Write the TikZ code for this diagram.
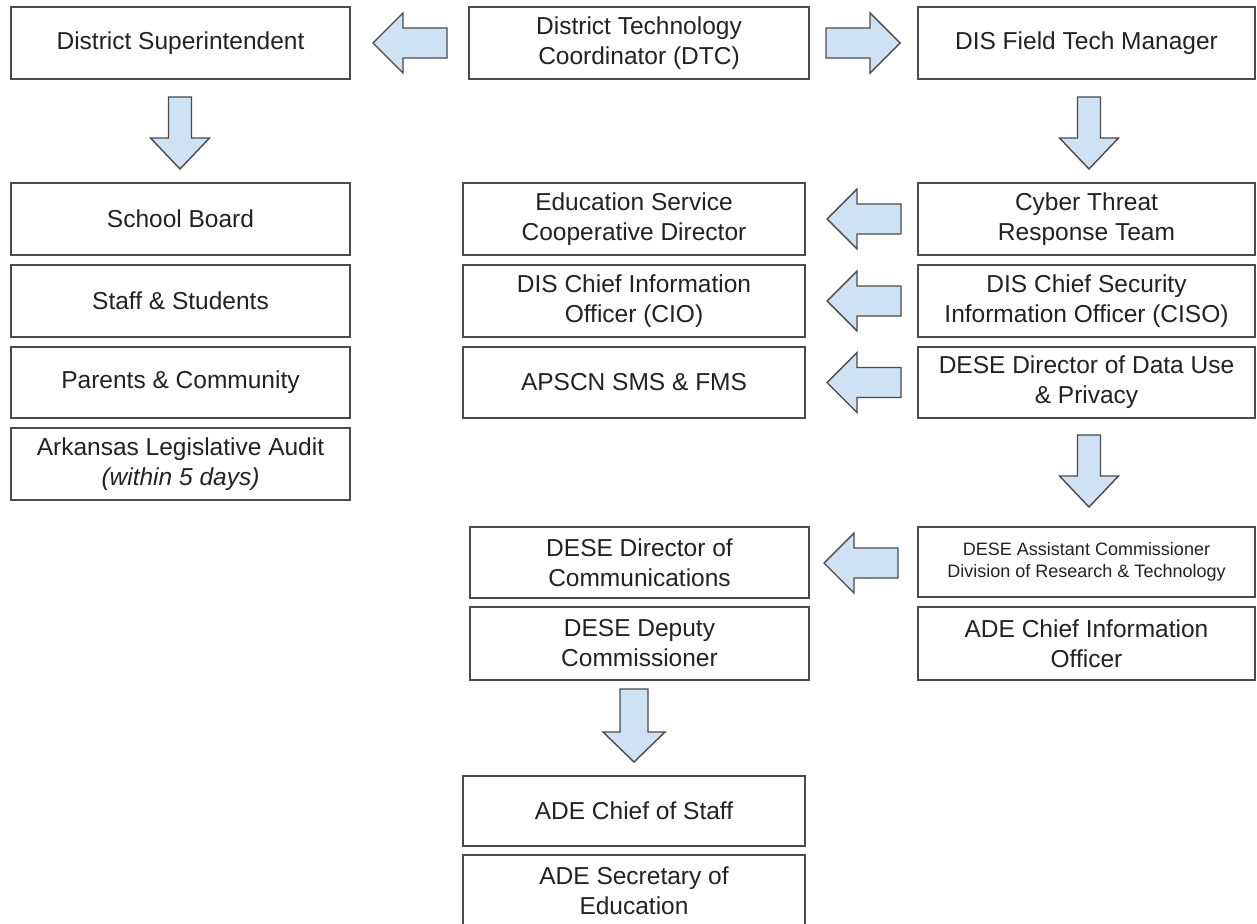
\documentclass[tikz,border=0pt]{standalone}
\usepackage{fontspec}
\setmainfont{Liberation Sans}
\definecolor{arrowfill}{HTML}{CFE2F3}
\definecolor{edge}{HTML}{4A4A4A}
\definecolor{txt}{HTML}{222222}
\tikzset{
  box/.style={draw=edge, line width=1.4pt, fill=white, text=txt, align=center,
    inner sep=0pt, font=\fontsize{24.5}{30}\selectfont},
  smalltext/.style={font=\fontsize{18}{21.5}\selectfont},
  arrowsty/.style={draw=edge, line width=1.4pt, fill=arrowfill, line join=miter},
  harr/.pic={\draw[arrowsty] (0,0) -- (-30,-30) -- (-30,-15) -- (-74,-15) -- (-74,15) -- (-30,15) -- (-30,30) -- cycle;},
  varr/.pic={\draw[arrowsty] (0,0) -- (-31,-29.5) -- (-31,-11.5) -- (-72,-11.5) -- (-72,11.5) -- (-31,11.5) -- (-31,29.5) -- cycle;},
  varrb/.pic={\draw[arrowsty] (0,0) -- (-30,-31) -- (-30,-14) -- (-73,-14) -- (-73,14) -- (-30,14) -- (-30,31) -- cycle;},
}
\begin{document}
\begin{tikzpicture}[x=1pt, y=-1pt]
\useasboundingbox (0,0) rectangle (1257,923);
\fill[white] (0,0) rectangle (1257,923);
\clip (0,0) rectangle (1257,923);

% left column
\node[box, minimum width=339pt, minimum height=72pt] (ds) at (180.5,43) {District Superintendent};
\node[box, minimum width=339pt, minimum height=72pt] (sb) at (180.5,219) {School Board};
\node[box, minimum width=339pt, minimum height=72pt] (ss) at (180.5,301) {Staff \& Students};
\node[box, minimum width=339pt, minimum height=71pt] (pc) at (180.5,382.5) {Parents \& Community};
\node[box, minimum width=339pt, minimum height=72pt] (ala) at (180.5,464) {Arkansas Legislative Audit\\\textit{(within 5 days)}};

% middle column
\node[box, minimum width=340pt, minimum height=72pt] (dtc) at (639,43) {District Technology\\Coordinator (DTC)};
\node[box, minimum width=342pt, minimum height=72pt] (edu) at (634,219) {Education Service\\Cooperative Director};
\node[box, minimum width=342pt, minimum height=72pt] (cio) at (634,301) {DIS Chief Information\\Officer (CIO)};
\node[box, minimum width=342pt, minimum height=71pt] (apscn) at (634,382.5) {APSCN SMS \& FMS};
\node[box, minimum width=339pt, minimum height=71pt] (comm) at (639.5,562.5) {DESE Director of\\Communications};
\node[box, minimum width=339pt, minimum height=73pt] (deputy) at (639.5,643.5) {DESE Deputy\\Commissioner};
\node[box, minimum width=342pt, minimum height=70pt] (cos) at (634,811) {ADE Chief of Staff};
\node[box, minimum width=342pt, minimum height=72pt] (sec) at (634,891) {ADE Secretary of\\Education};

% right column
\node[box, minimum width=337pt, minimum height=72pt] (ftm) at (1086.5,43) {DIS Field Tech Manager};
\node[box, minimum width=337pt, minimum height=72pt] (cyber) at (1086.5,219) {Cyber Threat\\Response Team};
\node[box, minimum width=337pt, minimum height=72pt] (ciso) at (1086.5,301) {DIS Chief Security\\Information Officer (CISO)};
\node[box, minimum width=337pt, minimum height=71pt] (datause) at (1086.5,382.5) {DESE Director of Data Use\\\& Privacy};
\node[box, smalltext, minimum width=337pt, minimum height=70pt] (asst) at (1086.5,562) {DESE Assistant Commissioner\\Division of Research \& Technology};
\node[box, minimum width=337pt, minimum height=73pt] (adecio) at (1086.5,643.5) {ADE Chief Information\\Officer};

% block arrows
\pic[rotate=180] at (373,43) {harr};
\pic at (900,43) {harr};
\pic[rotate=-90] at (180,169) {varr};
\pic[rotate=-90] at (1089,169) {varr};
\pic[rotate=180] at (827,219) {harr};
\pic[rotate=180] at (827,301) {harr};
\pic[rotate=180] at (827,382.5) {harr};
\pic[rotate=-90] at (1089,507) {varr};
\pic[rotate=180] at (824,563) {harr};
\pic[rotate=-90] at (634,762) {varrb};
\end{tikzpicture}
\end{document}
